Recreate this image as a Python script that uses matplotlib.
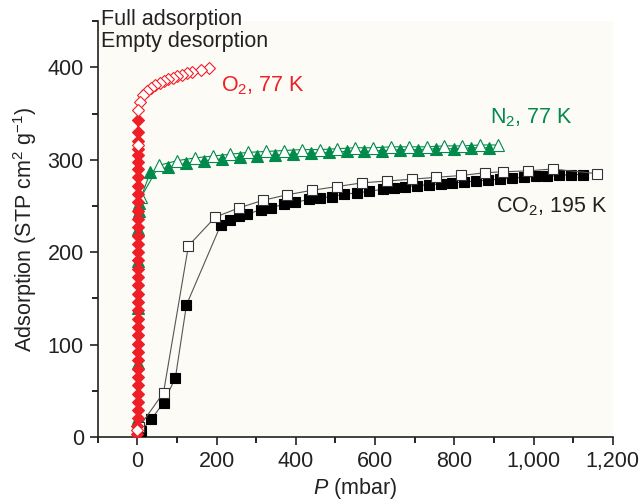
import matplotlib
matplotlib.use("Agg")
import matplotlib.pyplot as plt
from matplotlib.ticker import MultipleLocator, FuncFormatter

plt.rcParams['font.family'] = ['Liberation Sans', 'DejaVu Sans']
plt.rcParams['mathtext.fontset'] = 'custom'
plt.rcParams['mathtext.rm'] = 'Liberation Sans'
plt.rcParams['mathtext.it'] = 'Liberation Sans:italic'

# ---- O2 at 77 K ----
o2_ads_p = [0.2, 0.3, 0.4, 0.5, 0.5, 0.6, 0.7, 0.7, 0.8, 0.9, 0.9, 1.0, 1.0, 1.1,
            1.1, 1.2, 1.2, 1.3, 1.3, 1.4, 1.4, 1.5, 1.5, 1.6, 1.6, 1.7, 1.7, 1.8,
            1.8, 1.9, 1.9, 2.0, 2.0, 2.1, 2.1, 2.2, 2.3, 2.4, 2.6]
o2_ads_v = [3, 12, 20, 29, 38, 47, 56, 65, 74, 83, 92, 101, 110, 119,
            128, 137, 146, 155, 164, 173, 182, 191, 200, 209, 218, 227, 236, 245,
            254, 263, 272, 281, 290, 298, 305, 312, 320, 330, 343]
o2_des_p = [180, 160, 137, 125, 112, 100, 89, 77, 66, 56, 45, 35, 24, 15, 7, 2.5, 0.5, 0.2]
o2_des_v = [399, 397, 395, 394, 392, 391, 389, 387, 385, 383, 381, 378, 374, 370, 362, 354, 316, 8]

# ---- N2 at 77 K ----
n2_ads_p = [0.5, 1.0, 1.5, 2.0, 2.5, 3.0, 4.0, 33, 78, 123, 168, 213, 258, 303, 348,
            393, 438, 483, 528, 573, 618, 663, 708, 753, 798, 843, 888]
n2_ads_v = [20, 80, 140, 190, 225, 245, 253, 287, 292, 296, 299, 301, 303, 304, 305,
            306, 307, 308, 309, 309, 310, 311, 311, 312, 312, 313, 313]
n2_des_p = [910, 865, 820, 775, 730, 685, 640, 595, 550, 505, 460, 415, 370, 325,
            280, 235, 190, 145, 100, 55, 10]
n2_des_v = [316, 316, 315, 315, 314, 314, 314, 313, 313, 312, 311, 311, 310, 309,
            308, 306, 304, 302, 299, 294, 260]

# ---- CO2 at 195 K ----
co2_ads_p = [8, 35, 66, 96, 124, 210, 233, 257, 277, 311, 338, 370, 399, 433, 460,
             492, 522, 555, 585, 619, 648, 676, 707, 737, 766, 795, 825, 855, 885,
             915, 945, 975, 1005, 1035, 1065, 1095, 1125]
co2_ads_v = [6, 19, 37, 64, 143, 229, 235, 239, 241, 246, 248, 252, 254, 257, 259,
             260, 263, 264, 266, 268, 269, 271, 272, 273, 274, 275, 276, 277, 278,
             279, 280, 281, 282, 282, 283, 284, 284]
co2_des_p = [1160, 1048, 985, 924, 878, 818, 754, 694, 630, 567, 504, 441, 377,
             316, 257, 197, 129, 66, 5]
co2_des_v = [285, 290, 288, 287, 286, 283, 281, 279, 277, 275, 271, 267, 262,
             256, 248, 238, 207, 48, 11]

red = '#ee1f26'
green = '#008a4b'
ink = '#222222'
fs = 15.5

fig = plt.figure(figsize=(6.43, 5.04), dpi=100)
fig.patch.set_facecolor('white')
ax = fig.add_axes([0.152, 0.133, 0.801, 0.825])
ax.set_facecolor('#fdfbf5')

# N2 (drawn first so the O2 column sits on top)
ax.plot(n2_ads_p, n2_ads_v, '-', color=green, lw=0.8, marker='^', ms=9,
        mfc=green, mec=green, mew=0.8, zorder=2)
ax.plot(n2_des_p, n2_des_v, '-', color=green, lw=0.8, marker='^', ms=9,
        mfc='white', mec=green, mew=0.8, zorder=2)

# CO2
ax.plot(co2_ads_p, co2_ads_v, '-', color='#555555', lw=0.8, marker='s', ms=7,
        mfc='black', mec='black', mew=0.8, zorder=3)
ax.plot(co2_des_p, co2_des_v, '-', color='#555555', lw=0.8, marker='s', ms=7,
        mfc='white', mec='#333333', mew=0.8, zorder=3)

# O2
ax.plot(o2_ads_p, o2_ads_v, '-', color=red, lw=0.8, marker='D', ms=6.5,
        mfc=red, mec=red, mew=0.8, zorder=4)
ax.plot(o2_des_p, o2_des_v, '-', color=red, lw=0.8, marker='D', ms=6.5,
        mfc='white', mec=red, mew=0.8, zorder=4)

ax.set_xlim(-100, 1200)
ax.set_ylim(0, 450)
ax.xaxis.set_major_locator(MultipleLocator(200))
ax.xaxis.set_minor_locator(MultipleLocator(100))
ax.yaxis.set_major_locator(MultipleLocator(100))
ax.yaxis.set_minor_locator(MultipleLocator(50))
ax.xaxis.set_major_formatter(FuncFormatter(lambda v, p: f"{int(v):,}"))
ax.tick_params(axis='both', which='major', direction='out', length=6, width=1.2,
               labelsize=fs, colors=ink, pad=4)
ax.tick_params(axis='both', which='minor', direction='out', length=4, width=1.2)
for s in ['top', 'right']:
    ax.spines[s].set_visible(False)
for s in ['left', 'bottom']:
    ax.spines[s].set_linewidth(1.2)
    ax.spines[s].set_color(ink)

ax.set_xlabel(r'$P$ (mbar)', fontsize=fs, color=ink, labelpad=3)
ax.set_ylabel(r'Adsorption (STP cm$^2$ g$^{-1}$)', fontsize=fs, color=ink, labelpad=6)

ax.text(-91, 463, 'Full adsorption\nEmpty desorption', fontsize=fs, color=ink,
        va='top', ha='left', linespacing=1.05, clip_on=False)
ax.text(210, 380, r'O$_2$, 77 K', fontsize=fs, color=red, va='center', ha='left')
ax.text(889, 346, r'N$_2$, 77 K', fontsize=fs, color=green, va='center', ha='left')
ax.text(906, 249, r'CO$_2$, 195 K', fontsize=fs, color=ink, va='center', ha='left')

fig.savefig('out.png', dpi=100)
